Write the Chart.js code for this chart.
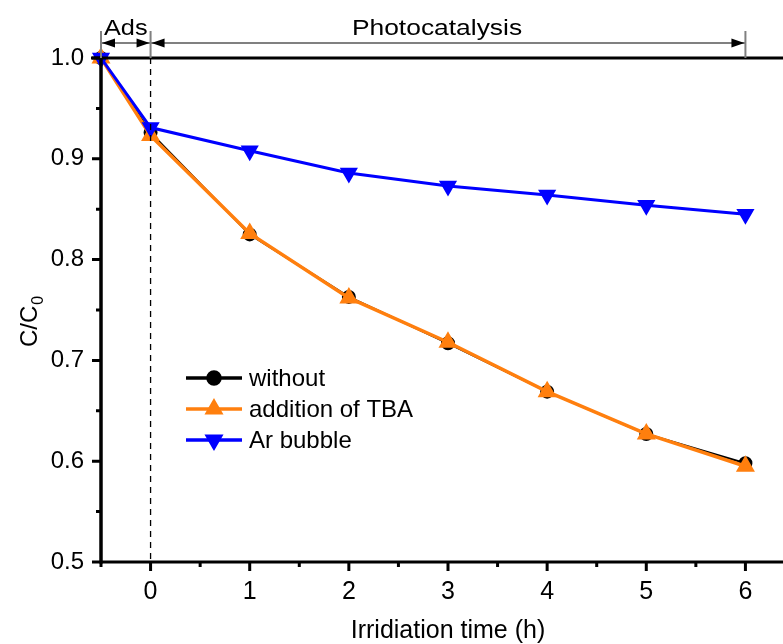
<!DOCTYPE html>
<html>
<head>
<meta charset="utf-8">
<script src="https://cdn.jsdelivr.net/npm/chart.js@4.4.0/dist/chart.umd.min.js"></script>
<style>
  html, body { margin: 0; padding: 0; background: #fff; overflow: hidden; }
  #wrap { width: 806px; height: 644px; }
</style>
</head>
<body>
<div id="wrap"><canvas id="degradation" width="806" height="644"></canvas></div>
<script>
// irradiation time (h); -0.5 is the start of the dark adsorption step
const times = [-0.5, 0, 1, 2, 3, 4, 5, 6];
const withoutScavenger = [1.0, 0.926, 0.825, 0.763, 0.717, 0.669, 0.627, 0.598];
const additionTBA = [1.0, 0.923, 0.826, 0.762, 0.718, 0.669, 0.627, 0.595];
const arBubble = [1.0, 0.931, 0.908, 0.886, 0.873, 0.864, 0.854, 0.845];

const xTicks = [0, 1, 2, 3, 4, 5, 6];
const xMinorTicks = [-0.5, 0.5, 1.5, 2.5, 3.5, 4.5, 5.5];
const yTicks = [0.5, 0.6, 0.7, 0.8, 0.9, 1.0];
const yMinorTicks = [0.55, 0.65, 0.75, 0.85, 0.95];

const FONT = "'Liberation Sans', Arial, sans-serif";

function pts(values) {
  return times.map((t, i) => ({ x: t, y: values[i] }));
}

// text stretched horizontally by sx, centred on cx
function wideText(ctx, text, cx, y, sx) {
  ctx.save();
  ctx.translate(cx, y);
  ctx.scale(sx, 1);
  ctx.textAlign = 'center';
  ctx.fillText(text, 0, 0);
  ctx.restore();
}

// axes frame, tick marks, axis titles, phase arrows and legend
const decorations = {
  id: 'decorations',
  afterDatasetsDraw(chart) {
    const ctx = chart.ctx;
    const xs = chart.scales.x, ys = chart.scales.y;
    const a = chart.chartArea;
    const x0 = xs.getPixelForValue(-0.5);
    const yTop = ys.getPixelForValue(1.0);
    const yBot = ys.getPixelForValue(0.5);

    ctx.save();
    ctx.strokeStyle = '#000';
    ctx.lineCap = 'butt';

    // dashed line at the end of adsorption
    const xZero = xs.getPixelForValue(0);
    ctx.lineWidth = 1.3;
    ctx.setLineDash([6, 5]);
    ctx.beginPath();
    ctx.moveTo(xZero, yTop);
    ctx.lineTo(xZero, yBot);
    ctx.stroke();
    ctx.setLineDash([]);

    // frame
    ctx.lineWidth = 3;
    ctx.beginPath();
    ctx.moveTo(a.left - 10, yTop);
    ctx.lineTo(a.right + 10, yTop);
    ctx.moveTo(x0 - 1, yBot);
    ctx.lineTo(a.right + 10, yBot);
    ctx.stroke();
    ctx.lineWidth = 3.5;
    ctx.beginPath();
    ctx.moveTo(x0, yTop - 1.5);
    ctx.lineTo(x0, yBot + 1.5);
    ctx.stroke();

    // tick marks
    ctx.lineWidth = 3;
    ctx.beginPath();
    xTicks.forEach(v => { const p = xs.getPixelForValue(v); ctx.moveTo(p, yBot); ctx.lineTo(p, yBot + 9); });
    xMinorTicks.forEach(v => { const p = xs.getPixelForValue(v); ctx.moveTo(p, yBot); ctx.lineTo(p, yBot + 5); });
    yTicks.forEach(v => { const p = ys.getPixelForValue(v); ctx.moveTo(x0, p); ctx.lineTo(x0 - 9, p); });
    yMinorTicks.forEach(v => { const p = ys.getPixelForValue(v); ctx.moveTo(x0, p); ctx.lineTo(x0 - 5, p); });
    ctx.stroke();

    // axis titles
    ctx.fillStyle = '#000';
    ctx.font = '25px ' + FONT;
    ctx.textAlign = 'center';
    ctx.textBaseline = 'alphabetic';
    ctx.fillText('Irridiation time (h)', (x0 + a.right) / 2, 638);

    ctx.save();
    ctx.translate(37, (yTop + yBot) / 2 + 12);
    ctx.rotate(-Math.PI / 2);
    const main = 'C/C';
    ctx.font = '24px ' + FONT;
    const wMain = ctx.measureText(main).width;
    ctx.font = '16px ' + FONT;
    const wSub = ctx.measureText('0').width;
    const start = -(wMain + wSub) / 2;
    ctx.textAlign = 'left';
    ctx.font = '24px ' + FONT;
    ctx.fillText(main, start, 0);
    ctx.font = '16px ' + FONT;
    ctx.fillText('0', start + wMain + 1, 6);
    ctx.restore();

    // phase arrows
    const xSix = xs.getPixelForValue(6);
    const yArr = 43;
    ctx.strokeStyle = '#808080';
    ctx.lineWidth = 2;
    ctx.beginPath();
    ctx.moveTo(x0, 31); ctx.lineTo(x0, yTop);
    ctx.moveTo(xZero, 31); ctx.lineTo(xZero, yTop);
    ctx.moveTo(xSix, 31); ctx.lineTo(xSix, yTop);
    ctx.moveTo(x0, yArr); ctx.lineTo(xZero, yArr);
    ctx.moveTo(xZero, yArr); ctx.lineTo(xSix, yArr);
    ctx.stroke();
    const head = (tip, dir) => {
      ctx.beginPath();
      ctx.moveTo(tip, yArr);
      ctx.lineTo(tip - dir * 13, yArr - 4.5);
      ctx.lineTo(tip - dir * 13, yArr + 4.5);
      ctx.closePath();
      ctx.fill();
    };
    ctx.fillStyle = '#000';
    head(x0 + 1, -1);
    head(xZero - 1, 1);
    head(xZero + 1, -1);
    head(xSix - 1, 1);

    ctx.font = '22px ' + FONT;
    wideText(ctx, 'Ads', (x0 + xZero) / 2, 35, 1.15);
    wideText(ctx, 'Photocatalysis', 437, 35, 1.2);

    // legend
    const rows = [378, 409, 440];
    chart.data.datasets.forEach((ds, i) => {
      const y = rows[i];
      ctx.strokeStyle = ds.borderColor;
      ctx.lineWidth = 3.5;
      ctx.beginPath();
      ctx.moveTo(186, y);
      ctx.lineTo(242, y);
      ctx.stroke();
      Chart.helpers.drawPoint(ctx, {
        pointStyle: ds.pointStyle,
        radius: ds.pointRadius,
        rotation: ds.pointRotation || 0,
        borderWidth: 1
      }, 214, y);
      ctx.fillStyle = ds.pointBackgroundColor;
      ctx.strokeStyle = ds.pointBorderColor;
      ctx.fill();
      ctx.fillStyle = '#000';
      ctx.font = '24px ' + FONT;
      ctx.textAlign = 'left';
      ctx.textBaseline = 'middle';
      ctx.fillText(ds.label, 249, y + 1);
    });
    ctx.restore();
  }
};

new Chart(document.getElementById('degradation'), {
  type: 'line',
  data: {
    datasets: [
      {
        label: 'without',
        data: pts(withoutScavenger),
        borderColor: '#000000',
        borderWidth: 2,
        pointStyle: 'circle',
        pointRadius: 6,
        pointBackgroundColor: '#000000',
        pointBorderColor: '#000000',
        order: 3
      },
      {
        label: 'addition of TBA',
        data: pts(additionTBA),
        borderColor: '#ff7f0e',
        borderWidth: 3.5,
        pointStyle: 'triangle',
        pointRadius: 7.5,
        pointBackgroundColor: '#ff7f0e',
        pointBorderColor: '#ff7f0e',
        order: 2
      },
      {
        label: 'Ar bubble',
        data: pts(arBubble),
        borderColor: '#0000ff',
        borderWidth: 3,
        pointStyle: 'triangle',
        pointRotation: 180,
        pointRadius: 7.5,
        pointBackgroundColor: '#0000ff',
        pointBorderColor: '#0000ff',
        order: 1
      }
    ]
  },
  options: {
    responsive: false,
    animation: false,
    events: [],
    clip: false,
    layout: { padding: { top: 58, right: 0, left: 0, bottom: 0 } },
    plugins: { legend: { display: false }, tooltip: { enabled: false } },
    elements: { line: { tension: 0 }, point: { borderWidth: 1, hitRadius: 0 } },
    scales: {
      x: {
        type: 'linear',
        min: -0.5,
        max: 6.5,
        afterBuildTicks: s => { s.ticks = xTicks.map(v => ({ value: v })); },
        afterFit: s => { s.height = 82; s.paddingLeft = 0; s.paddingRight = 0; },
        grid: { display: false, drawTicks: false },
        border: { display: false },
        ticks: {
          padding: 15,
          color: '#000',
          maxRotation: 0,
          font: { family: FONT, size: 25 },
          callback: v => String(v)
        }
      },
      y: {
        min: 0.5,
        max: 1.0,
        afterBuildTicks: s => { s.ticks = yTicks.map(v => ({ value: v })); },
        afterFit: s => { s.width = 101; s.paddingTop = 0; s.paddingBottom = 0; },
        grid: { display: false, drawTicks: false },
        border: { display: false },
        ticks: {
          padding: 17,
          color: '#000',
          font: { family: FONT, size: 24 },
          callback: v => Number(v).toFixed(1)
        }
      }
    }
  },
  plugins: [decorations]
});
</script>
</body>
</html>
